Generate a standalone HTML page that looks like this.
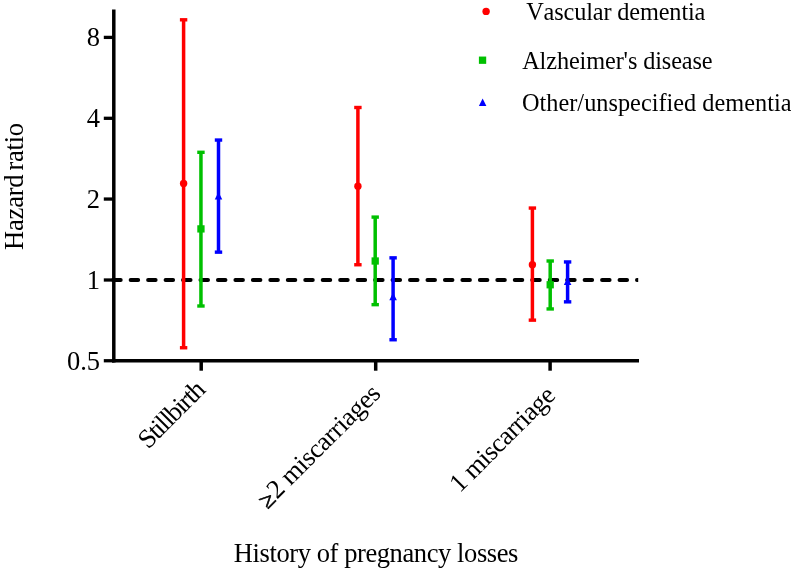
<!DOCTYPE html>
<html><head><meta charset="utf-8"><title>Hazard ratio by history of pregnancy losses</title>
<style>
html,body{margin:0;padding:0;background:#fff;}
svg{display:block;will-change:transform;}
text{font-family:"Liberation Serif","Times New Roman",Times,serif;fill:#000;font-kerning:none;}
</style></head><body>
<svg width="791" height="570" viewBox="0 0 791 570">
<rect x="0" y="0" width="791" height="570" fill="#fff"/>

<g stroke="#000" fill="none">
<line x1="113.8" y1="9.4" x2="113.8" y2="362.45" stroke-width="3.5"/>
<line x1="112.05" y1="360.75" x2="639" y2="360.75" stroke-width="3.4"/>
<line x1="103.8" y1="37.4" x2="113.8" y2="37.4" stroke-width="3.3"/>
<line x1="103.8" y1="118.3" x2="113.8" y2="118.3" stroke-width="3.3"/>
<line x1="103.8" y1="199.05" x2="113.8" y2="199.05" stroke-width="3.3"/>
<line x1="103.8" y1="280.0" x2="113.8" y2="280.0" stroke-width="3.3"/>
<line x1="103.8" y1="360.75" x2="113.8" y2="360.75" stroke-width="3.3"/>
<line x1="201.2" y1="360.75" x2="201.2" y2="370.7" stroke-width="3.5"/>
<line x1="375.7" y1="360.75" x2="375.7" y2="370.7" stroke-width="3.5"/>
<line x1="550.1" y1="360.75" x2="550.1" y2="370.7" stroke-width="3.5"/>
<clipPath id="dc"><rect x="100" y="270" width="538.2" height="20"/></clipPath>
<line clip-path="url(#dc)" x1="113.2" y1="280.1" x2="642" y2="280.1" stroke-width="4" stroke-linecap="round" stroke-dasharray="7.5 9.96"/>
</g>
<line x1="183.6" y1="19.8" x2="183.6" y2="347.75" stroke="#ff0000" stroke-width="3.5"/><rect x="179.90" y="18.10" width="7.4" height="3.4" fill="#ff0000"/><rect x="179.90" y="346.05" width="7.4" height="3.4" fill="#ff0000"/><circle cx="183.6" cy="183.5" r="3.7" fill="#ff0000"/>
<line x1="200.95" y1="152.3" x2="200.95" y2="306.0" stroke="#00c000" stroke-width="3.5"/><rect x="197.25" y="150.60" width="7.4" height="3.4" fill="#00c000"/><rect x="197.25" y="304.30" width="7.4" height="3.4" fill="#00c000"/><rect x="197.30" y="225.25" width="7.3" height="7.3" fill="#00c000"/>
<line x1="218.5" y1="140.05" x2="218.5" y2="252.15" stroke="#0000ff" stroke-width="3.5"/><rect x="214.80" y="138.35" width="7.4" height="3.4" fill="#0000ff"/><rect x="214.80" y="250.45" width="7.4" height="3.4" fill="#0000ff"/><polygon points="214.75,199.6 222.25,199.6 218.5,192.00" fill="#0000ff"/>
<line x1="357.9" y1="107.5" x2="357.9" y2="264.75" stroke="#ff0000" stroke-width="3.5"/><rect x="354.20" y="105.80" width="7.4" height="3.4" fill="#ff0000"/><rect x="354.20" y="263.05" width="7.4" height="3.4" fill="#ff0000"/><circle cx="357.9" cy="186.15" r="3.7" fill="#ff0000"/>
<line x1="375.2" y1="217.1" x2="375.2" y2="304.65" stroke="#00c000" stroke-width="3.5"/><rect x="371.50" y="215.40" width="7.4" height="3.4" fill="#00c000"/><rect x="371.50" y="302.95" width="7.4" height="3.4" fill="#00c000"/><rect x="371.55" y="257.35" width="7.3" height="7.3" fill="#00c000"/>
<line x1="393.1" y1="257.85" x2="393.1" y2="339.75" stroke="#0000ff" stroke-width="3.5"/><rect x="389.40" y="256.15" width="7.4" height="3.4" fill="#0000ff"/><rect x="389.40" y="338.05" width="7.4" height="3.4" fill="#0000ff"/><polygon points="389.35,300.2 396.85,300.2 393.1,292.60" fill="#0000ff"/>
<line x1="532.4" y1="208.05" x2="532.4" y2="320.15" stroke="#ff0000" stroke-width="3.5"/><rect x="528.70" y="206.35" width="7.4" height="3.4" fill="#ff0000"/><rect x="528.70" y="318.45" width="7.4" height="3.4" fill="#ff0000"/><circle cx="532.4" cy="264.8" r="3.7" fill="#ff0000"/>
<line x1="550.2" y1="261.0" x2="550.2" y2="308.95" stroke="#00c000" stroke-width="3.5"/><rect x="546.50" y="259.30" width="7.4" height="3.4" fill="#00c000"/><rect x="546.50" y="307.25" width="7.4" height="3.4" fill="#00c000"/><rect x="546.55" y="281.10" width="7.3" height="7.3" fill="#00c000"/>
<line x1="567.6" y1="261.95" x2="567.6" y2="301.85" stroke="#0000ff" stroke-width="3.5"/><rect x="563.90" y="260.25" width="7.4" height="3.4" fill="#0000ff"/><rect x="563.90" y="300.15" width="7.4" height="3.4" fill="#0000ff"/><polygon points="563.85,284.9 571.35,284.9 567.6,277.30" fill="#0000ff"/>
<text x="100" y="46.40" font-size="26.5" text-anchor="end">8</text>
<text x="100" y="127.30" font-size="26.5" text-anchor="end">4</text>
<text x="100" y="208.05" font-size="26.5" text-anchor="end">2</text>
<text x="100" y="289.00" font-size="26.5" text-anchor="end">1</text>
<text x="100" y="369.75" font-size="26.5" text-anchor="end">0.5</text>
<text transform="translate(22.8,249.9) rotate(-90)" font-size="26.5" textLength="75.5" lengthAdjust="spacing">Hazard</text>
<text transform="translate(22.8,170.5) rotate(-90)" font-size="26.5" textLength="47.6" lengthAdjust="spacing">ratio</text>
<text x="233.8" y="561.8" font-size="26.5" textLength="284.6" lengthAdjust="spacing">History of pregnancy losses</text>
<text transform="translate(148.14,449.66) rotate(-45)" font-size="26.5" textLength="83.1" lengthAdjust="spacing">Stillbirth</text>
<text transform="translate(267.7,509.4) rotate(-45)" font-size="23.5" stroke="#000" stroke-width="0.7">≥</text>
<text transform="translate(277.12,499.74) rotate(-45)" font-size="26.5" textLength="148.3" lengthAdjust="spacing">2 miscarriages</text>
<text transform="translate(459.85,493.45) rotate(-45)" font-size="26.5" textLength="137.0" lengthAdjust="spacing">1 miscarriage</text>
<circle cx="486.1" cy="11.4" r="3.7" fill="#ff0000"/>
<rect x="478.90" y="56.55" width="7.3" height="7.3" fill="#00c000"/>
<polygon points="478.90,106.0 486.40,106.0 482.65,98.40" fill="#0000ff"/>
<text x="526.2" y="20.2" font-size="24.3" textLength="179.2" lengthAdjust="spacing">Vascular dementia</text>
<text x="522.2" y="69.0" font-size="24.3" textLength="190.4" lengthAdjust="spacing">Alzheimer's disease</text>
<text x="522.0" y="111.0" font-size="24.3" textLength="269.5" lengthAdjust="spacing">Other/unspecified dementia</text>
</svg></body></html>
